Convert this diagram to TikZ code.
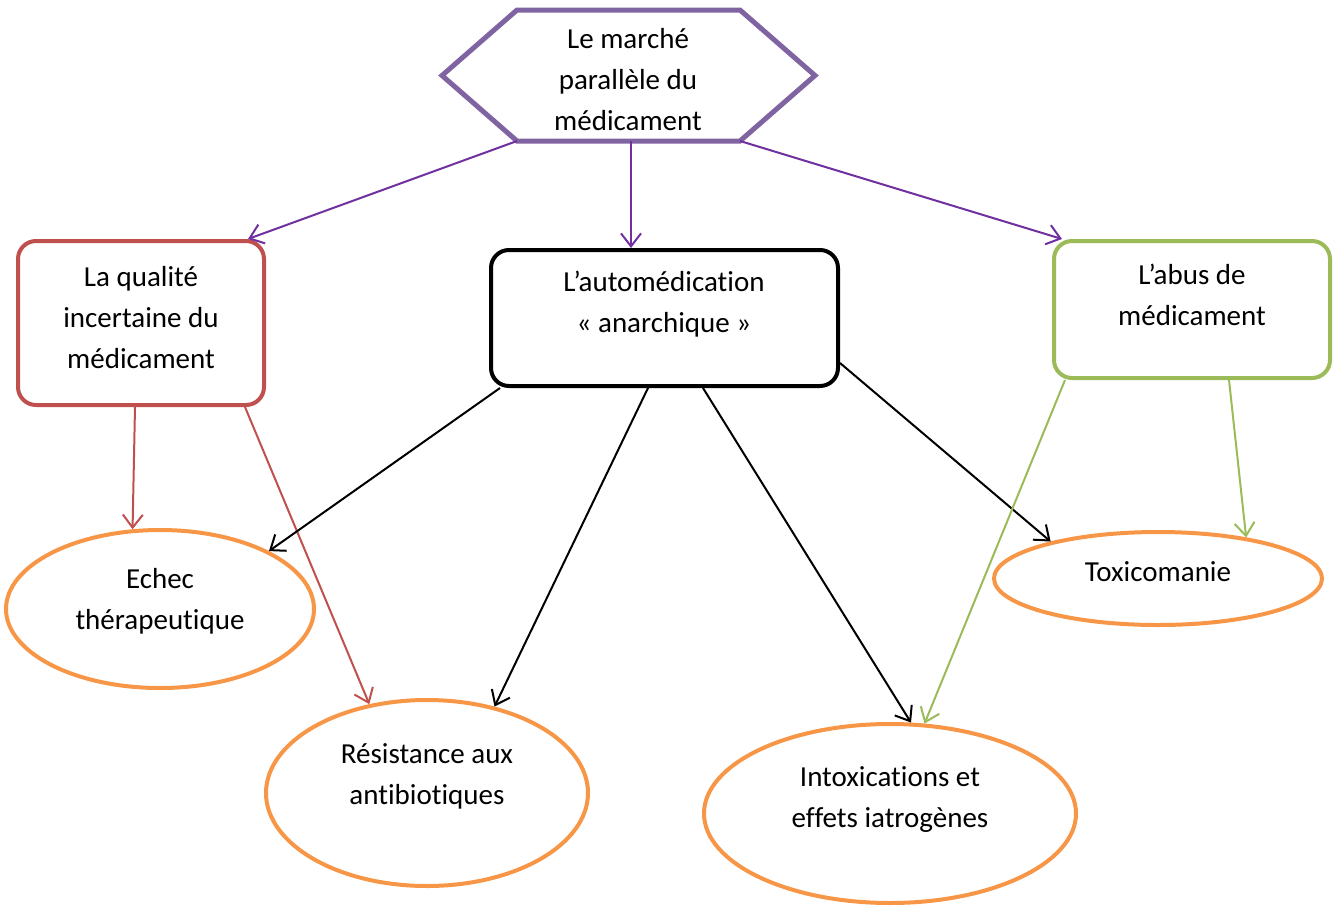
\documentclass[tikz,border=0pt]{standalone}
\usepackage{fontspec}
\setmainfont{Carlito}[Ligatures=NoCommon]
\usetikzlibrary{arrows.meta,shapes.geometric}

\definecolor{mauve}{HTML}{8064A2}
\definecolor{pourpre}{HTML}{7030A0}
\definecolor{brique}{HTML}{C0504D}
\definecolor{vertclair}{HTML}{9BBB59}
\definecolor{orangeclair}{HTML}{F79646}

\tikzset{
  boite/.style={draw, rectangle, rounded corners=18pt, line width=4pt, inner sep=0pt},
  bulle/.style={draw=orangeclair, ellipse, line width=4pt, inner sep=0pt},
  texte/.style={align=center, inner sep=0pt, font=\fontsize{29}{41}\selectfont},
  fleche/.style={-{Straight Barb[length=13pt,width=20pt]}, line width=2pt},
}

\begin{document}
\begin{tikzpicture}[x=1pt,y=-1pt]
  \useasboundingbox (0,0) rectangle (1334,908);

  % Hexagone du haut
  \node[minimum width=223pt, minimum height=131pt, inner sep=0pt, outer sep=0pt] (marche) at (628.5,75.5) {};
  \draw[mauve, line width=5pt] (marche.north west) -- (marche.north east)
    -- ([xshift=75pt]marche.east) -- (marche.south east) -- (marche.south west)
    -- ([xshift=-75pt]marche.west) -- cycle;
  \node[texte] (t-marche) at (628,80) {Le marché\\parallèle du\\médicament};

  % Les trois boites
  \node[boite, draw=brique, minimum width=246pt, minimum height=164pt] (qual) at (141,323) {};
  \node[boite, draw=black, minimum width=347pt, minimum height=136pt] (auto) at (664.5,318) {};
  \node[boite, draw=vertclair, minimum width=276pt, minimum height=137pt] (abus) at (1192,309.5) {};
  \node[texte] (t-qual) at (141,318) {La qualité\\incertaine du\\médicament};
  \node[texte] (t-auto) at (664,304) {L’automédication\\« anarchique »};
  \node[texte] (t-abus) at (1192,295) {L’abus de\\médicament};

  % Les consequences (ellipses)
  \node[bulle, minimum width=308pt, minimum height=158pt] (echec) at (160,609) {};
  \node[bulle, minimum width=322pt, minimum height=186pt] (resist) at (427,793) {};
  \node[bulle, minimum width=372pt, minimum height=179pt] (intox) at (890,813.5) {};
  \node[bulle, minimum width=328pt, minimum height=93pt] (toxico) at (1158,578.5) {};
  \node[texte] (t-echec) at (160,601) {Echec\\thérapeutique};
  \node[texte] (t-resist) at (427,776) {Résistance aux\\antibiotiques};
  \node[texte] (t-intox) at (890,800) {Intoxications et\\effets iatrogènes};
  \node[texte] (t-toxico) at (1158,572) {Toxicomanie};

  % Fleches
  \draw[fleche, pourpre] (marche.south west) -- ([xshift=-18pt]qual.north east);
  \draw[fleche, pourpre] ([xshift=2.5pt]marche.south) -- ([xshift=-33.5pt]auto.north);
  \draw[fleche, pourpre] (marche.south east) -- ([xshift=10pt]abus.north west);

  \draw[fleche, brique] ([xshift=-6pt]qual.south) -- (echec.109);
  \draw[fleche, brique] ([xshift=104pt]qual.south) -- (resist.123);

  \draw[fleche] ([xshift=-164.5pt]auto.south) -- (echec.28);
  \draw[fleche] ([xshift=-16.5pt]auto.south) -- (resist.52);
  \draw[fleche] ([xshift=38.5pt]auto.south) -- (intox.77);
  \draw[fleche] ([yshift=-45pt]auto.east) -- (toxico.161);

  \draw[fleche, vertclair] ([xshift=13pt]abus.south west) -- (intox.69);
  \draw[fleche, vertclair] ([xshift=37pt]abus.south) -- (toxico.25);
\end{tikzpicture}
\end{document}
